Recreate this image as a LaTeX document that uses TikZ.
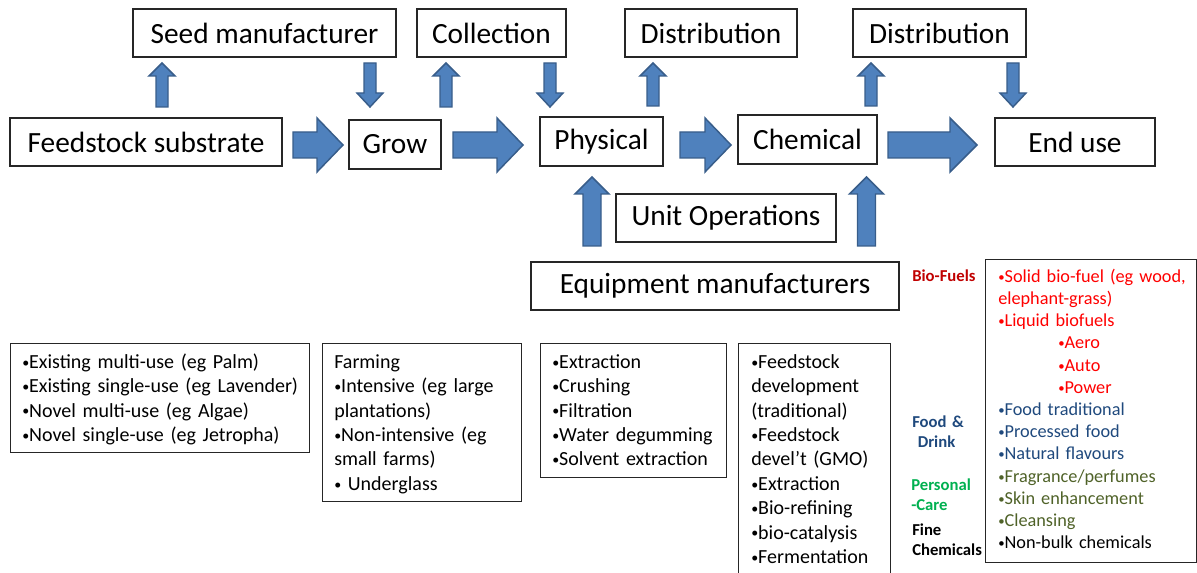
\documentclass[tikz,border=0pt]{standalone}
\usepackage{fontspec}
\setmainfont{Carlito}
\usetikzlibrary{calc}
\definecolor{arrowfill}{HTML}{4F81BD}
\definecolor{arrowline}{HTML}{385D8A}
\definecolor{fuellabel}{HTML}{C00000}
\definecolor{fuelred}{HTML}{FF0000}
\definecolor{foodblue}{HTML}{1F497D}
\definecolor{careg}{HTML}{00B050}
\definecolor{olive}{HTML}{4F6228}
\newcommand\bul{\raisebox{0.12ex}{\scalebox{0.7}{•}}}
\newcommand\harr[4]{\draw[blockarrow] (#1,#4-13) -- (#2,#4-13) -- (#2,#4-27) -- (#3,#4) -- (#2,#4+27) -- (#2,#4+13) -- (#1,#4+13) -- cycle;}
\newcommand\varr[6]{\draw[blockarrow] (#1-#5,#4) -- (#1-#5,#3) -- (#1-#6,#3) -- (#1,#2) -- (#1+#6,#3) -- (#1+#5,#3) -- (#1+#5,#4) -- cycle;}
\begin{document}
\begin{tikzpicture}[x=0.75pt,y=-0.75pt,
  sz/.style 2 args={minimum width=#1*0.75pt,minimum height=#2*0.75pt},
  mainbox/.style={draw=black!85,line width=0.8pt,inner sep=0,font=\fontsize{22}{26}\selectfont},
  listbox/.style={draw=black!85,line width=0.8pt,inner sep=0,anchor=north west},
  listtext/.style={anchor=north west,inner sep=0,align=left,text width=240pt,font=\fontsize{15}{18.3}\selectfont},
  endtext/.style={anchor=north west,inner sep=0,align=left,text width=200pt,font=\fontsize{13.7}{16.65}\selectfont},
  labeltext/.style={anchor=north west,inner sep=0,align=left,text width=80pt,font=\bfseries\fontsize{12.5}{15}\selectfont},
  blockarrow/.style={fill=arrowfill,draw=arrowline,line width=1.1pt,line join=miter}]
\useasboundingbox (0,0) rectangle (1197,573);
\clip (0,0) rectangle (1197,573);
% top boxes
\node[mainbox,sz={263}{48}] (seed) at (264.5,33) {Seed manufacturer};
\node[mainbox,sz={149}{48}] (coll) at (491.5,33) {Collection};
\node[mainbox,sz={172}{48}] (dist1) at (711,33) {Distribution};
\node[mainbox,sz={173}{48}] (dist2) at (939.5,33) {Distribution};
% main row
\node[mainbox,sz={272}{48}] (feed) at (146,142) {Feedstock substrate};
\node[mainbox,sz={92}{49}] (grow) at (395,144.5) {Grow};
\node[mainbox,sz={123}{49}] (phys) at (601.5,141.5) {Physical};
\node[mainbox,sz={139}{49}] (chem) at (807.5,139.5) {Chemical};
\node[mainbox,sz={160}{48}] (end) at (1075,142) {End use};
\node[mainbox,sz={220}{48}] (unit) at (726,218) {Unit Operations};
\node[mainbox,sz={368}{48}] (equip) at (715,286) {Equipment manufacturers};
% horizontal block arrows
\harr{293}{317}{343}{145}
\harr{453}{497}{523}{145}
\harr{680}{705}{731}{145}
\harr{888}{950}{977}{145}
% small vertical arrows
\varr{162}{63}{76}{107}{6}{13}
\varr{370}{107}{93}{63}{6}{13}
\varr{446}{63}{76}{107}{6}{13}
\varr{550}{107}{93}{63}{6}{13}
\varr{653}{63}{76}{106}{6}{13}
\varr{871}{63}{76}{106}{6}{13}
\varr{1013}{107}{93}{63}{6}{13}
% big vertical arrows
\varr{592}{177}{194}{246}{9}{17}
\varr{866.5}{177}{194}{246}{9}{17}
% list boxes
\node[listbox,sz={299}{109}] (l1) at (10,343) {};
\node[listtext] (t1) at (22,351) {\strut\bul Existing multi-use (eg Palm)\\\strut\bul Existing single-use (eg Lavender)\\\strut\bul Novel multi-use (eg Algae)\\\strut\bul Novel single-use (eg Jetropha)};
\node[listbox,sz={199}{158}] (l2) at (322,343) {};
\node[listtext] (t2) at (334,351) {\strut Farming\\\strut\bul Intensive (eg large\\\strut plantations)\\\strut\bul Non-intensive (eg\\\strut small farms)\\\strut\bul\ Underglass};
\node[listbox,sz={186}{134}] (l3) at (540,343) {};
\node[listtext] (t3) at (552,351) {\strut\bul Extraction\\\strut\bul Crushing\\\strut\bul Filtration\\\strut\bul Water degumming\\\strut\bul Solvent extraction};
\node[listbox,sz={152}{260}] (l4) at (738,343) {};
\node[listtext] (t4) at (751,351) {\strut\bul Feedstock\\\strut development\\\strut(traditional)\\\strut\bul Feedstock\\\strut devel’t (GMO)\\\strut\bul Extraction\\\strut\bul Bio-refining\\\strut\bul bio-catalysis\\\strut\bul Fermentation};
\node[listbox,sz={211}{303}] (l5) at (985,259) {};
\node[endtext] (t5) at (998,266.5) {%
\color{fuelred}\strut\bul Solid bio-fuel (eg wood,\\
\strut elephant-grass)\\
\strut\bul Liquid biofuels\\
\strut\hspace*{45pt}\bul Aero\\
\strut\hspace*{45pt}\bul Auto\\
\strut\hspace*{45pt}\bul Power\\
\color{foodblue}\strut\bul Food traditional\\
\strut\bul Processed food\\
\strut\bul Natural flavours\\
\color{olive}\strut\bul Fragrance/perfumes\\
\strut\bul Skin enhancement\\
\strut\bul Cleansing\\
\color{black}\strut\bul Non-bulk chemicals};
% category labels
\node[labeltext,text=fuellabel] (lab1) at (912,267) {\strut Bio-Fuels};
\node[labeltext,text=foodblue] (lab2) at (912,413) {\strut Food \&\\\strut\ Drink};
\node[labeltext,text=careg] (lab3) at (911,476) {\strut Personal\\\strut -Care};
\node[labeltext,text=black] (lab4) at (912,521) {\strut Fine\\\strut Chemicals};
\end{tikzpicture}
\end{document}
